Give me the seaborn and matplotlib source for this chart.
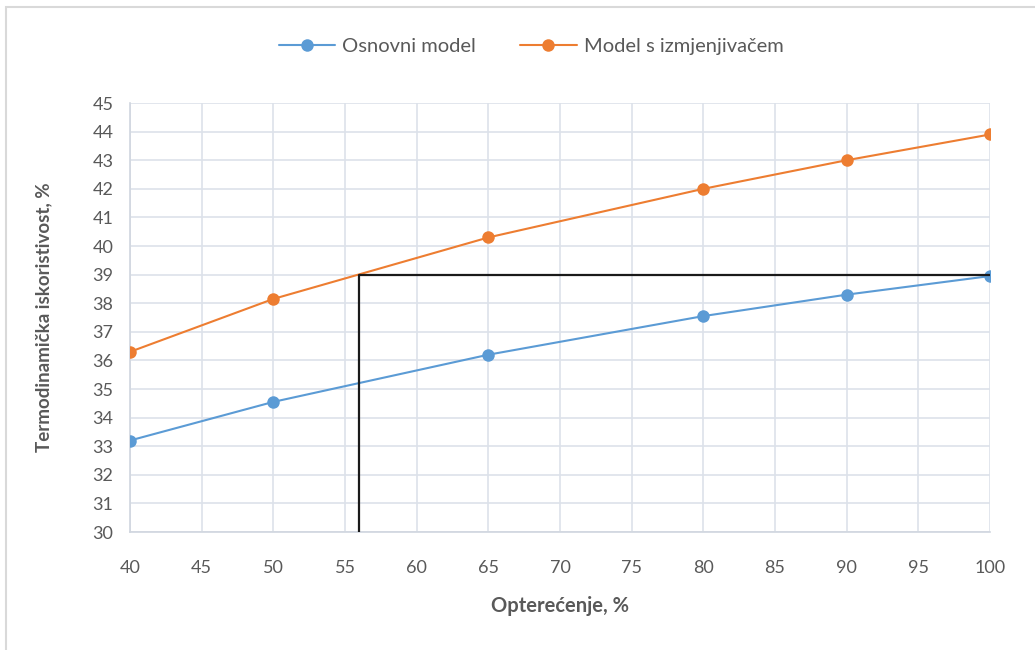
import matplotlib
matplotlib.use("Agg")
import matplotlib.pyplot as plt
import seaborn as sns
import pandas as pd
from matplotlib.patches import Rectangle

load = [40, 50, 65, 80, 90, 100]
basic = [33.2, 34.55, 36.2, 37.55, 38.3, 38.95]
exchanger = [36.3, 38.15, 40.3, 42.0, 43.0, 43.9]
series_names = ["Osnovni model", "Model s izmjenjivačem"]
ref_x = 56
ref_y = 39

df = pd.DataFrame({
    "x": load * 2,
    "y": basic + exchanger,
    "s": [series_names[0]] * len(load) + [series_names[1]] * len(load),
})

sns.set_theme(style="white")
plt.rcParams["font.family"] = ["Lato", "DejaVu Sans"]
txt = "#595959"

fig = plt.figure(figsize=(10.35, 6.5), dpi=100)
ax = fig.add_axes([0.1256, 0.1815, 0.8309, 0.66])

sns.lineplot(data=df, x="x", y="y", hue="s", marker="o", markersize=9,
             markeredgewidth=0, linewidth=1.5,
             palette=["#5B9BD5", "#ED7D31"], ax=ax, zorder=3)

ax.plot([ref_x, ref_x, 100], [30, ref_y, ref_y], color="#1a1a1a", lw=1.6, zorder=4)

ax.set_xlim(40, 100)
ax.set_ylim(30, 45)
ax.set_xticks(range(40, 101, 5))
ax.set_yticks(range(30, 46, 1))
ax.grid(True, color="#dde2ea", lw=1.2)
for s in ["top", "right"]:
    ax.spines[s].set_visible(False)
for s in ["left", "bottom"]:
    ax.spines[s].set_color("#d0d6df")
    ax.spines[s].set_linewidth(1.2)
ax.tick_params(axis="both", colors=txt, labelsize=13, length=0)
ax.tick_params(axis="x", pad=20)
ax.tick_params(axis="y", pad=12)
ax.set_xlabel("Opterećenje, %", color=txt, fontsize=14.5, fontweight="bold")
ax.set_ylabel("Termodinamička iskoristivost, %", color=txt, fontsize=13.5, fontweight="bold")
ax.xaxis.set_label_coords(0.5, -0.15)
ax.yaxis.set_label_coords(-0.09, 0.5)

leg = fig.legend(*ax.get_legend_handles_labels(), loc="center", bbox_to_anchor=(0.513, 0.928),
                 ncol=2, frameon=False, fontsize=14.5, handlelength=2.8,
                 handletextpad=0.35, columnspacing=2.2)
ax.get_legend().remove()
for t in leg.get_texts():
    t.set_color(txt)

fig.patches.append(Rectangle((0.006, -0.01), 1.1, 1.0, transform=fig.transFigure,
                             fill=False, edgecolor="#d9d9d9", lw=1.5))

fig.savefig("out.png", dpi=100)
